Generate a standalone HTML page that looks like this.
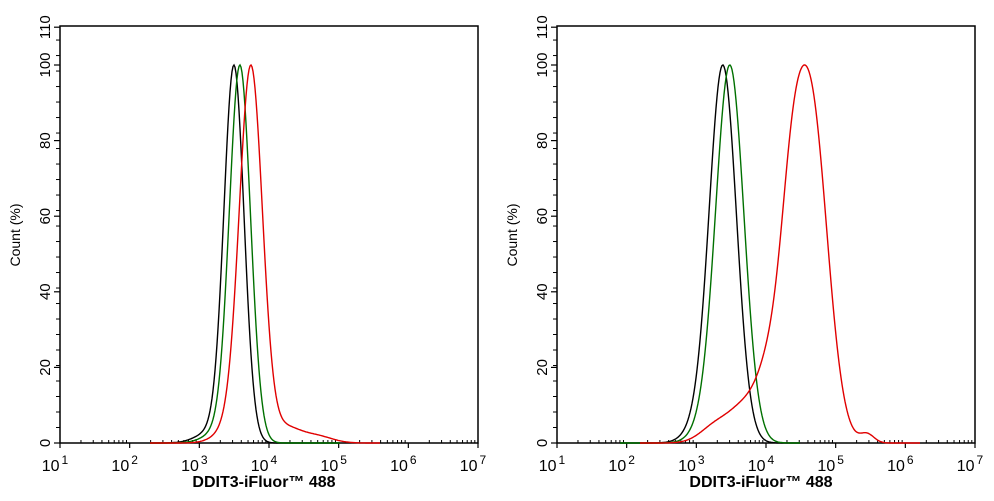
<!DOCTYPE html>
<html><head><meta charset="utf-8"><style>
html,body{margin:0;padding:0;background:#fff;}
svg{display:block;font-family:"Liberation Sans",Arial,sans-serif;}
</style></head><body>
<svg id="s" width="994" height="501" viewBox="0 0 994 501" xmlns="http://www.w3.org/2000/svg"></svg>
<script>
const S=document.getElementById('s');let h='';
function g(x,c,s,a){return a*Math.exp(-0.5*((x-c)/s)**2);}
function axes(x0){
  const x1=x0+418, y0=443, yt=26;
  h+=`<rect x="${x0}" y="${yt}" width="${x1-x0}" height="${y0-yt}" fill="none" stroke="#000" stroke-width="1.5"/>`;
  for(let v=0;v<=110;v+=4.1){const y=443-v*3.78;h+=`<line x1="${x0-4}" x2="${x0}" y1="${y}" y2="${y}" stroke="#000"/>`;}
  [0,20,40,60,80,100,110].forEach(v=>{const y=443-v*3.78;
    h+=`<line x1="${x0-6}" x2="${x0}" y1="${y}" y2="${y}" stroke="#000" stroke-width="1.2"/>`;
    h+=`<text transform="translate(${x0-10},${y}) rotate(-90)" text-anchor="middle" font-size="15">${v}</text>`;});
  h+=`<text transform="translate(${x0-40},235) rotate(-90)" text-anchor="middle" font-size="14">Count  (%)</text>`;
  const d=(x1-x0)/6;
  for(let k=0;k<=6;k++){const x=x0+k*d;
    h+=`<line x1="${x}" x2="${x}" y1="${y0}" y2="${y0+5}" stroke="#000" stroke-width="1.2"/>`;
    h+=`<text x="${x-5}" y="${y0+28}" text-anchor="middle" font-size="16">10<tspan dx="2" dy="-7" font-size="12">${k+1}</tspan></text>`;
    if(k<6)for(let m=2;m<=9;m++){const xm=x+Math.log10(m)*d;h+=`<line x1="${xm}" x2="${xm}" y1="${y0-3}" y2="${y0}" stroke="#000"/>`;}
  }
  h+=`<text x="${(x0+x1)/2-5}" y="${y0+44}" text-anchor="middle" font-size="16" font-weight="bold">DDIT3-iFluor™ 488</text>`;
}
function curve(f,xa,xb,col){
  let pts=[],mx=0;for(let x=xa;x<=xb;x+=1){const v=f(x);pts.push([x,v]);mx=Math.max(mx,v);}
  h+=`<polyline fill="none" stroke="${col}" stroke-width="1.4" points="${pts.map(p=>p[0]+','+(443-p[1]/mx*100*3.78).toFixed(1)).join(' ')}"/>`;
}
axes(60);axes(557);
curve(x=>g(x,234,10,100)+g(x,212,15,3),150,340,'#000');
curve(x=>g(x,240,10.5,100)+g(x,220,15,3),150,340,'#007000');
curve(x=>g(x,251,11.5,100)+g(x,232,15,4)+g(x,285,14,4)+g(x,315,16,2),150,380,'#e00000');
curve(x=>g(x,723,13.5,100)+g(x,700,14,4),620,800,'#000');
curve(x=>g(x,730,14,100)+g(x,707,14,4),620,800,'#007000');
curve(x=>g(x,810,17,90)+g(x,790,11,30)+g(x,770,13,18)+g(x,745,14,8)+g(x,718,16,5)+g(x,867,7,2.3),640,920,'#e00000');
S.innerHTML=h;
</script>
</body></html>
